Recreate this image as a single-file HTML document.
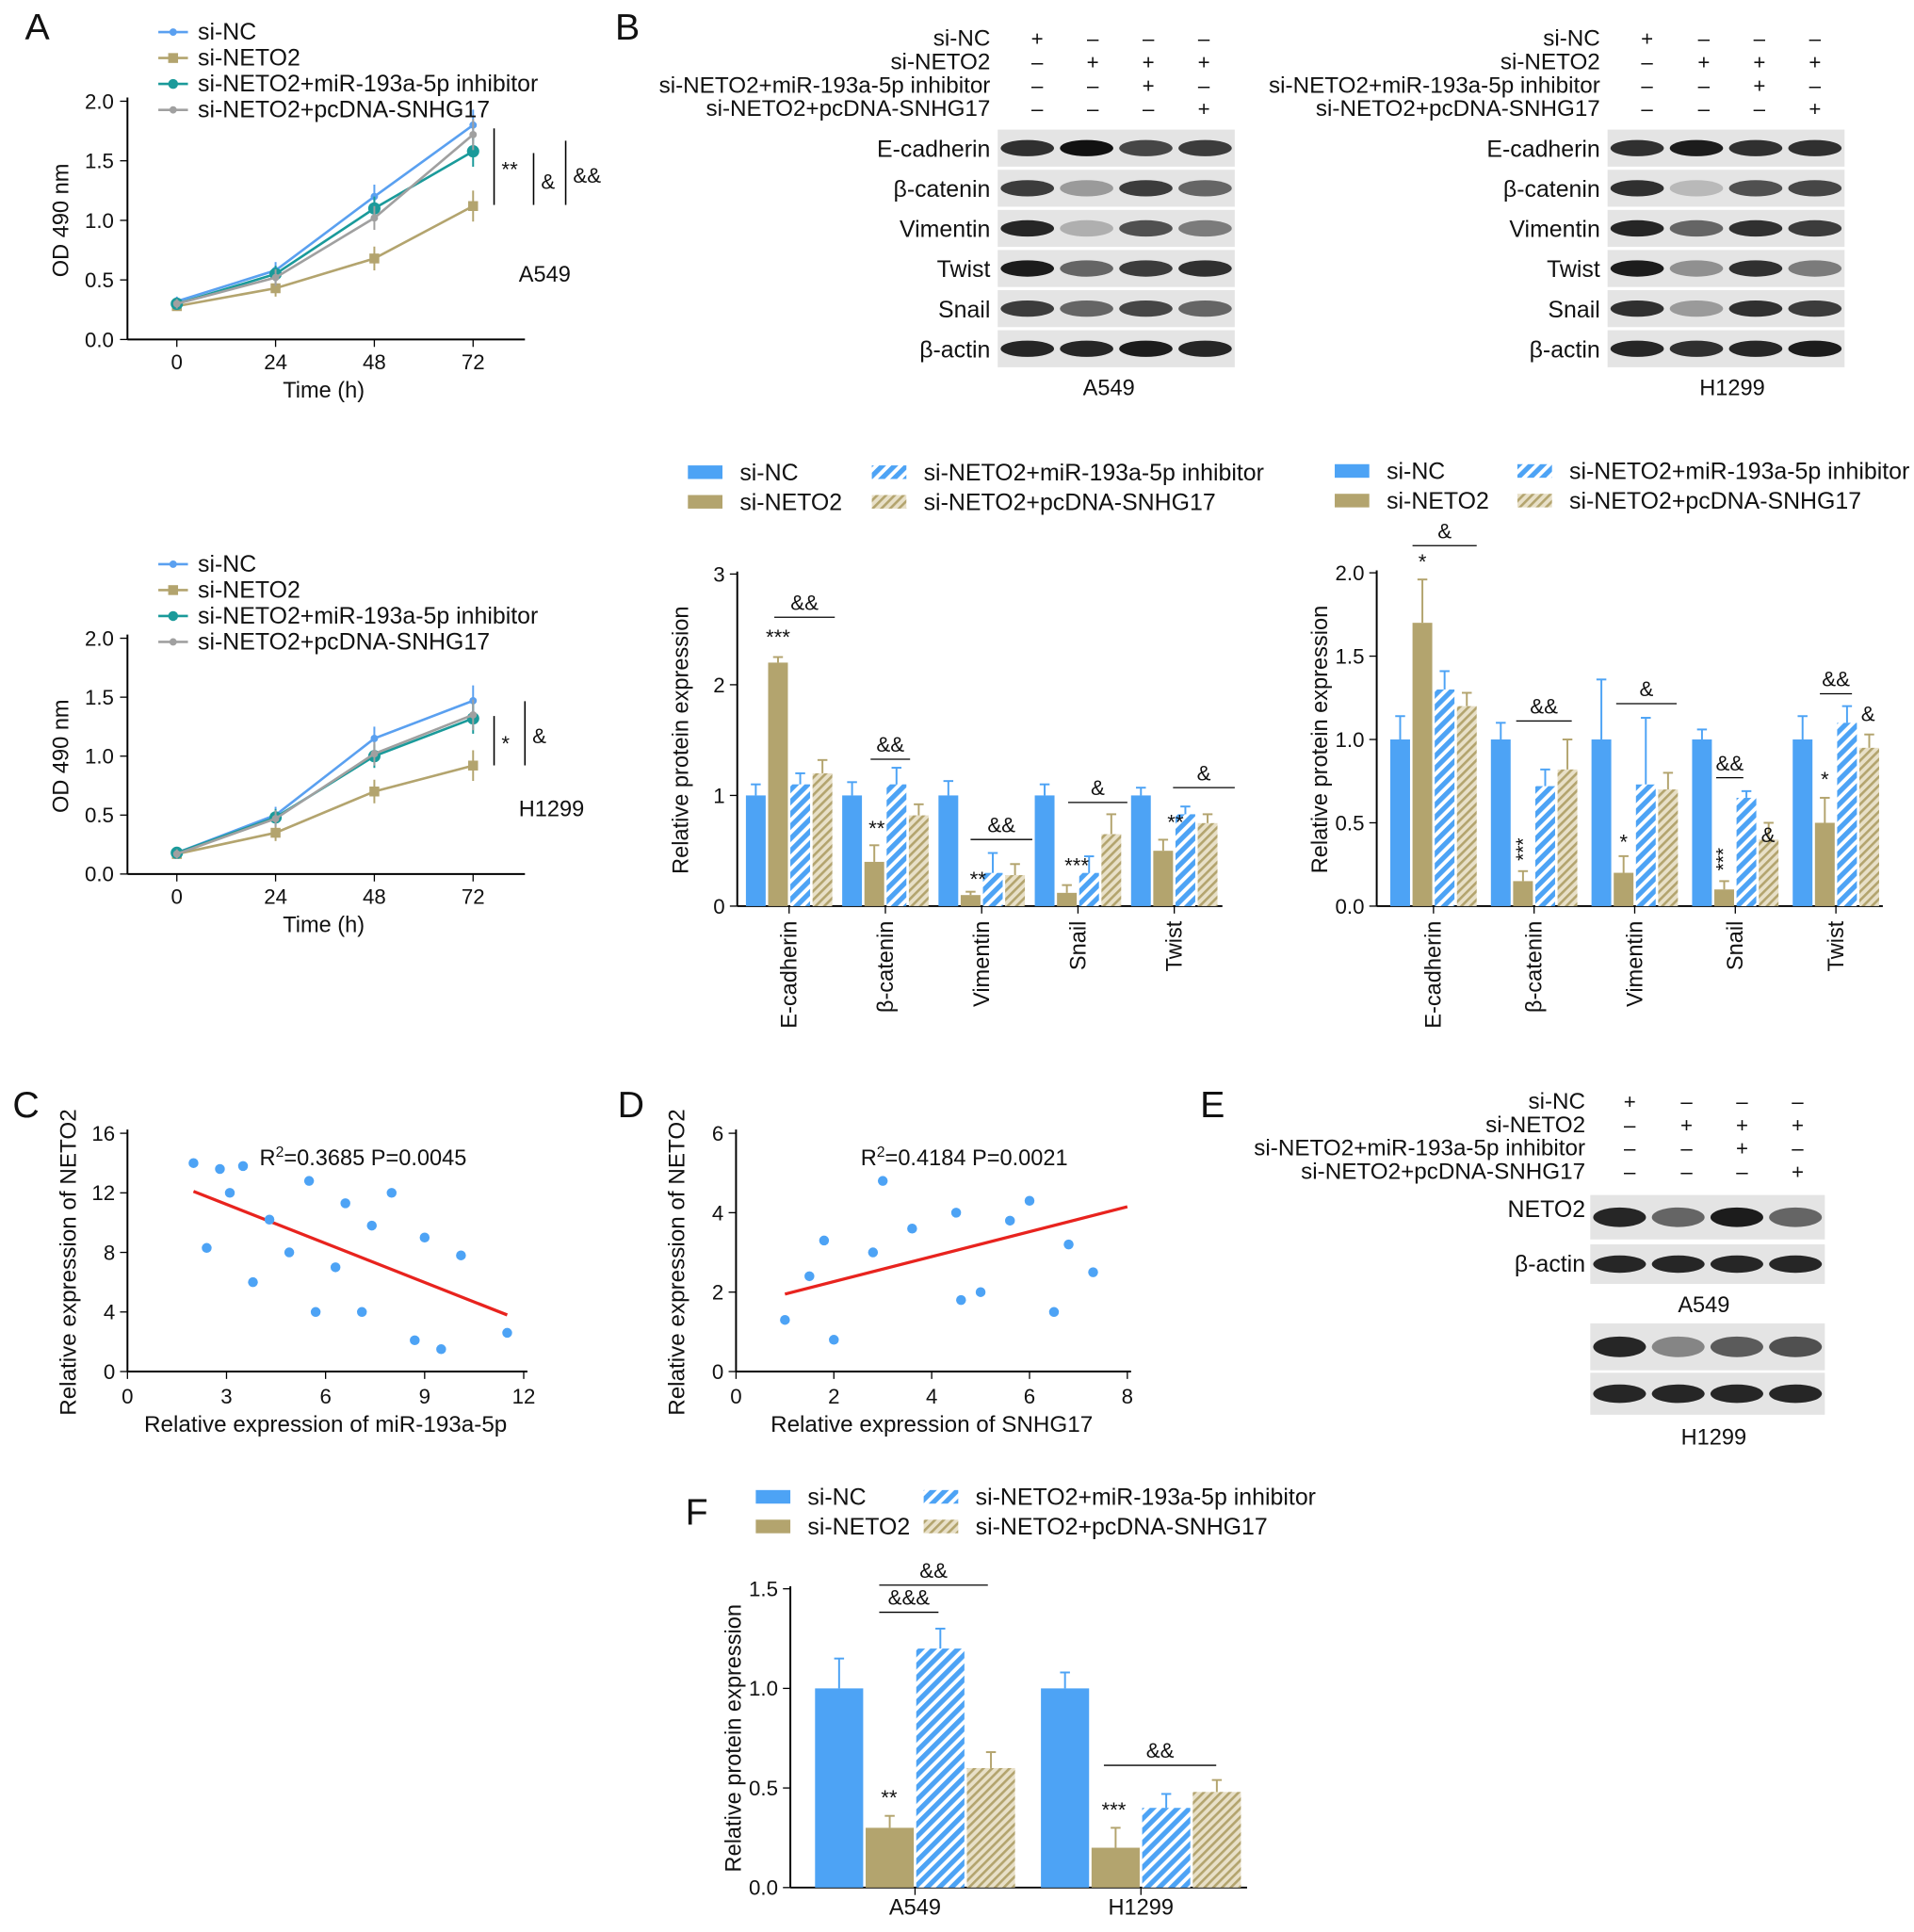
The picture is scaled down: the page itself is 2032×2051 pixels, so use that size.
<!DOCTYPE html>
<html><head><meta charset="utf-8"><style>
html,body{margin:0;padding:0;background:#fff}
svg{display:block;font-family:"Liberation Sans",Arial,sans-serif}
</style></head><body>
<svg id="fig" width="2032" height="2051" viewBox="0 0 1550 1565" xmlns="http://www.w3.org/2000/svg">
<defs>
<pattern id="hb" patternUnits="userSpaceOnUse" width="7" height="7" patternTransform="rotate(45)"><rect width="7" height="7" fill="#fff"/><rect width="4" height="7" fill="#4da3f5"/></pattern>
<pattern id="ht" patternUnits="userSpaceOnUse" width="5" height="5" patternTransform="rotate(45)"><rect width="5" height="5" fill="#e8e0c8"/><rect width="2" height="5" fill="#b3a46e"/></pattern>
</defs>
</svg>
<script>
// ---- data ----
const timeCats=[0,24,48,72];
const a549_siNC=[0.32,0.58,1.2,1.8], a549_siNETO2=[0.28,0.43,0.68,1.12], a549_inh=[0.3,0.55,1.1,1.58], a549_pc=[0.3,0.52,1.02,1.72];
const h1299_siNC=[0.18,0.5,1.15,1.47], h1299_siNETO2=[0.17,0.35,0.7,0.92], h1299_inh=[0.18,0.48,1.0,1.32], h1299_pc=[0.17,0.47,1.02,1.35];
const proteins=["E-cadherin","β-catenin","Vimentin","Snail","Twist"];
const bA_siNC=[1,1,1,1,1], bA_siNETO2=[2.2,0.4,0.1,0.12,0.5], bA_inh=[1.1,1.1,0.3,0.3,0.83], bA_pc=[1.2,0.82,0.28,0.65,0.75];
const bA_err=[[0.1,0.05,0.1,0.12],[0.12,0.15,0.15,0.1],[0.13,0.03,0.18,0.1],[0.1,0.07,0.15,0.18],[0.07,0.1,0.07,0.08]];
const bH_siNC=[1,1,1,1,1], bH_siNETO2=[1.7,0.15,0.2,0.1,0.5], bH_inh=[1.3,0.72,0.73,0.65,1.1], bH_pc=[1.2,0.82,0.7,0.4,0.95];
const bH_err=[[0.14,0.26,0.11,0.08],[0.1,0.06,0.1,0.18],[0.36,0.1,0.4,0.1],[0.06,0.05,0.04,0.1],[0.14,0.15,0.1,0.08]];
const scC_x=[2,2.4,2.8,3.1,3.5,3.8,4.3,4.9,5.5,5.7,6.3,6.6,7.1,7.4,8,8.7,9,9.5,10.1,11.5];
const scC_y=[14,8.3,13.6,12,13.8,6,10.2,8,12.8,4,7,11.3,4,9.8,12,2.1,9,1.5,7.8,2.6];
const fitC=[[2,12.1],[11.5,3.8]];
const scD_x=[1,1.5,1.8,2,2.8,3,3.6,4.5,4.6,5,5.6,6,6.5,6.8,7.3];
const scD_y=[1.3,2.4,3.3,0.8,3,4.8,3.6,4,1.8,2,3.8,4.3,1.5,3.2,2.5];
const fitD=[[1,1.95],[8,4.15]];
const fCats=["A549","H1299"];
const f_siNC=[1,1], f_siNETO2=[0.3,0.2], f_inh=[1.2,0.4], f_pc=[0.6,0.48];
const f_err=[[0.15,0.06,0.1,0.08],[0.08,0.1,0.07,0.06]];

const svg=document.getElementById('fig');
const NS="http://www.w3.org/2000/svg";
function mk(tag,at,par){const e=document.createElementNS(NS,tag);for(const k in at)e.setAttribute(k,at[k]);(par||svg).appendChild(e);return e;}
function tx(x,y,s,size,anchor,extra){const e=mk('text',Object.assign({x:x,y:y,'font-size':size||15,'text-anchor':anchor||'start',fill:'#111'},extra||{}));e.textContent=s;return e;}
const colNC="#5aa0f0",colN2="#b3a46e",colInh="#1a9a9a",colPc="#a0a0a0";

[["A",20,32],["B",498,32],["C",10,905],["D",500,905],["E",972,905],["F",555,1235]].forEach(p=>{const t=tx(p[1],p[2],p[0],30);

});

function lineChart(y0,yTop,series,cell,legY,sig){
 const xs=v=>143+v/24*80, ys=v=>y0-(v/2)*(y0-yTop);
 const g=mk('g',{});
 
 
 mk('line',{x1:103,y1:yTop-3,x2:103,y2:y0,stroke:'#000','stroke-width':1.5},g);
 mk('line',{x1:103,y1:y0,x2:425,y2:y0,stroke:'#000','stroke-width':1.5},g);
 [0,0.5,1,1.5,2].forEach(v=>{mk('line',{x1:97,x2:103,y1:ys(v),y2:ys(v),stroke:'#000'},g);const t=tx(92,ys(v)+6,v.toFixed(1),17,'end');
 });
 timeCats.forEach(v=>{mk('line',{x1:xs(v),x2:xs(v),y1:y0,y2:y0+6,stroke:'#000'},g);const t=tx(xs(v),y0+24,String(v),17,'middle');
 });
 const xt=tx(262,y0+47,"Time (h)",18,'middle');
 const yt=tx(0,0,"OD 490 nm",18,'middle',{transform:`translate(55,${(y0+yTop)/2}) rotate(-90)`});
 const ct=tx(420,y0-47,cell,18);
 series.forEach(s=>{
  const pts=s.v.map((v,i)=>xs(timeCats[i])+','+ys(v)).join(' ');
  const pl=mk('polyline',{points:pts,fill:'none',stroke:s.c,'stroke-width':2},g);
  
  s.v.forEach((v,i)=>{const e=0.04+0.03*i;mk('line',{x1:xs(timeCats[i]),x2:xs(timeCats[i]),y1:ys(v+e),y2:ys(v-e),stroke:s.c,'stroke-width':1.5},g);
   const m=s.m==='sq'?mk('rect',{x:xs(timeCats[i])-4,y:ys(v)-4,width:8,height:8,fill:s.c},g):mk('circle',{cx:xs(timeCats[i]),cy:ys(v),r:s.m==='big'?5:3,fill:s.c},g);
   });
 });
 const names=["si-NC","si-NETO2","si-NETO2+miR-193a-5p inhibitor","si-NETO2+pcDNA-SNHG17"];
 series.forEach((s,i)=>{const y=legY+i*21;mk('line',{x1:128,x2:152,y1:y,y2:y,stroke:s.c,'stroke-width':2});
  if(s.m==='sq')mk('rect',{x:136,y:y-4,width:8,height:8,fill:s.c});else mk('circle',{cx:140,cy:y,r:s.m==='big'?4:3,fill:s.c});
  const t=tx(160,y+6,names[i],19);});
 sig.forEach(q=>{mk('line',{x1:q[0],x2:q[0],y1:q[1],y2:q[2],stroke:'#000','stroke-width':1.2});tx(q[0]+6,(q[1]+q[2])/2+8,q[3],17);});
}
lineChart(275,82,[{v:a549_siNC,c:colNC,m:'dot'},{v:a549_siNETO2,c:colN2,m:'sq'},{v:a549_inh,c:colInh,m:'big'},{v:a549_pc,c:colPc,m:'dot'}],"A549",26,[[400,104,166,"**"],[432,124,166,"&"],[458,114,166,"&&"]]);
lineChart(708,517,[{v:h1299_siNC,c:colNC,m:'dot'},{v:h1299_siNETO2,c:colN2,m:'sq'},{v:h1299_inh,c:colInh,m:'big'},{v:h1299_pc,c:colPc,m:'dot'}],"H1299",457,[[400,580,620,"*"],[425,568,620,"&"]]);

function blot(x,y,w,h,intens,name){
 const g=mk('g',{});
 mk('rect',{x:x,y:y,width:w,height:h,fill:'#e4e4e4'},g);
 const lw=w/4;
 intens.forEach((a,i)=>{mk('ellipse',{cx:x+lw*(i+0.5),cy:y+h/2,rx:lw*0.45,ry:h*0.22,fill:'#111','fill-opacity':a},g);});
}
function blotHeader(xr,y0,cols){
 const names=["si-NC","si-NETO2","si-NETO2+miR-193a-5p inhibitor","si-NETO2+pcDNA-SNHG17"];
 const signs=[["+","–","–","–"],["–","+","+","+"],["–","–","+","–"],["–","–","–","+"]];
 names.forEach((n,i)=>{const t=tx(xr,y0+i*19,n,18.5,'end');
  signs[i].forEach((s,j)=>tx(cols[j],y0+i*19,s,17,'middle'));});
}
blotHeader(802,37,[840,885,930,975]);
blotHeader(1296,37,[1334,1380,1425,1470]);
const bandsA=[["E-cadherin",[0.85,1,0.75,0.8]],["β-catenin",[0.8,0.35,0.8,0.6]],["Vimentin",[0.9,0.25,0.7,0.5]],["Twist",[0.95,0.6,0.8,0.85]],["Snail",[0.8,0.6,0.75,0.6]],["β-actin",[0.9,0.9,0.95,0.9]]];
const bandsH=[["E-cadherin",[0.85,0.95,0.85,0.85]],["β-catenin",[0.85,0.2,0.7,0.75]],["Vimentin",[0.9,0.6,0.85,0.8]],["Twist",[0.95,0.4,0.85,0.5]],["Snail",[0.85,0.35,0.85,0.8]],["β-actin",[0.9,0.85,0.9,0.95]]];
bandsA.forEach((b,i)=>{const y=105+i*32.5;blot(808,y,192,30,b[1],'blot-a549-'+i);const t=tx(802,y+22,b[0],19,'end');});
bandsH.forEach((b,i)=>{const y=105+i*32.5;blot(1302,y,192,30,b[1],'blot-h1299-'+i);const t=tx(1296,y+22,b[0],19,'end');});
tx(898,320,"A549",18,'middle');tx(1403,320,"H1299",18,'middle');

function barLegend(x,y,rowGap,col2){
 const items=[["si-NC","#4da3f5"],["si-NETO2","#b3a46e"],["si-NETO2+miR-193a-5p inhibitor","url(#hb)"],["si-NETO2+pcDNA-SNHG17","url(#ht)"]];
 items.forEach((it,i)=>{const xx=x+(i>=2?col2:0),yy=y+(i%2)*rowGap;
  mk('rect',{x:xx,y:yy-9,width:28,height:11,fill:it[1]});
  const t=tx(xx+42,yy+3,it[0],19);});
}
barLegend(557,386,24,149);barLegend(1081,385,24,148);barLegend(612,1216,24,136);

const fills=["#4da3f5","#b3a46e","url(#hb)","url(#ht)"];
function barChart(o){
 const ys=v=>o.y0-v/o.max*(o.y0-o.yTop);
 const g=mk('g',{});
 mk('line',{x1:o.ax,x2:o.ax,y1:o.yTop-2,y2:o.y0,stroke:'#000','stroke-width':1.5},g);
 mk('line',{x1:o.ax,x2:o.xEnd,y1:o.y0,y2:o.y0,stroke:'#000','stroke-width':1.5},g);
 o.ticks.forEach(v=>{mk('line',{x1:o.ax-6,x2:o.ax,y1:ys(v),y2:ys(v),stroke:'#000'},g);const t=tx(o.ax-10,ys(v)+6,o.fmt(v),17,'end');});
 const yt=tx(0,0,"Relative protein expression",18,'middle',{transform:`translate(${o.ax-40},${(o.y0+o.yTop)/2}) rotate(-90)`});
 o.cats.forEach((c,i)=>{const gx=o.g0+i*o.gs;
  o.series.forEach((s,j)=>{const v=s[i],x=gx+j*o.bw;
   const r=mk('rect',{x:x+1,y:ys(v),width:o.bw-2,height:o.y0-ys(v),fill:fills[j]},g);
   
   const e=o.err[i][j],cx=x+o.bw/2,col=j%2?"#b3a46e":"#4da3f5";
   mk('line',{x1:cx,x2:cx,y1:ys(v),y2:ys(v+e),stroke:col,'stroke-width':1.5},g);
   mk('line',{x1:cx-4,x2:cx+4,y1:ys(v+e),y2:ys(v+e),stroke:col,'stroke-width':1.5},g);});
  const cxg=gx+2*o.bw;
  mk('line',{x1:cxg,x2:cxg,y1:o.y0,y2:o.y0+6,stroke:'#000'},g);
  const t=o.rot?tx(0,0,c,18,'end',{transform:`translate(${cxg+6},${o.y0+12}) rotate(-90)`}):tx(cxg,o.y0+22,c,18,'middle');
  });
 (o.ann||[]).forEach(a=>{if(a[3])mk('line',{x1:a[0],x2:a[1],y1:a[2],y2:a[2],stroke:'#000'});
  if(a[5]){tx(a[0],a[2],a[4],16,'middle',{transform:`rotate(-90 ${a[0]} ${a[2]})`});}
  else tx((a[0]+a[1])/2,a[2]-6,a[4],17,'middle');});
}
barChart({name:'bar-chart-a549',ax:597,xEnd:990,y0:734,yTop:465,max:3,ticks:[0,1,2,3],fmt:v=>String(v),cats:proteins,series:[bA_siNC,bA_siNETO2,bA_inh,bA_pc],err:bA_err,g0:603,gs:78,bw:18,rot:true,
 ann:[[627,676,500,1,"&&"],[705,737,615,1,"&&"],[786,836,680,1,"&&"],[865,913,650,1,"&"],[950,1000,638,1,"&"],[630,630,528,0,"***"],[710,710,683,0,"**"],[792,792,724,0,"**"],[872,872,713,0,"***"],[952,952,678,0,"**"]]});
barChart({name:'bar-chart-h1299',ax:1115,xEnd:1525,y0:734,yTop:464,max:2,ticks:[0,0.5,1,1.5,2],fmt:v=>v.toFixed(1),cats:proteins,series:[bH_siNC,bH_siNETO2,bH_inh,bH_pc],err:bH_err,g0:1125,gs:81.5,bw:18,rot:true,
 ann:[[1144,1196,442,1,"&"],[1228,1273,584,1,"&&"],[1309,1358,570,1,"&"],[1390,1412,630,1,"&&"],[1474,1500,562,1,"&&"],[1152,1152,467,0,"*"],[1239,1239,688,0,"***",1],[1315,1315,694,0,"*"],[1401,1401,696,0,"***",1],[1478,1478,643,0,"*"],[1432,1432,688,0,"&"],[1513,1513,590,0,"&"]]});
barChart({name:'bar-chart-neto2',ax:640,xEnd:1010,y0:1529,yTop:1287,max:1.5,ticks:[0,0.5,1,1.5],fmt:v=>v.toFixed(1),cats:fCats,series:[f_siNC,f_siNETO2,f_inh,f_pc],err:f_err,g0:659,gs:183,bw:41,rot:false,
 ann:[[712,800,1284,1,"&&"],[712,760,1306,1,"&&&"],[894,985,1430,1,"&&"],[720,720,1468,0,"**"],[902,902,1478,0,"***"]]});

function scatter(o){
 const xs=v=>o.x0+v/o.xmax*(o.x1-o.x0), ys=v=>o.y0-v/o.ymax*(o.y0-o.y1);
 const g=mk('g',{});
 mk('line',{x1:o.x0,x2:o.x0,y1:o.y1-3,y2:o.y0,stroke:'#000','stroke-width':1.5},g);
 mk('line',{x1:o.x0,x2:o.x1+3,y1:o.y0,y2:o.y0,stroke:'#000','stroke-width':1.5},g);
 o.xt.forEach(v=>{mk('line',{x1:xs(v),x2:xs(v),y1:o.y0,y2:o.y0+6,stroke:'#000'},g);const t=tx(xs(v),o.y0+26,String(v),17,'middle');});
 o.yt.forEach(v=>{mk('line',{x1:o.x0-6,x2:o.x0,y1:ys(v),y2:ys(v),stroke:'#000'},g);const t=tx(o.x0-10,ys(v)+6,String(v),17,'end');});
 const xa=tx((o.x0+o.x1)/2,o.y0+49,o.xl,18.5,'middle');
 const ya=tx(0,0,"Relative expression of NETO2",18.5,'middle',{transform:`translate(${o.x0-42},${(o.y0+o.y1)/2+8}) rotate(-90)`});
 const fl=mk('line',{x1:xs(o.fit[0][0]),y1:ys(o.fit[0][1]),x2:xs(o.fit[1][0]),y2:ys(o.fit[1][1]),stroke:'#e8231e','stroke-width':2.5},g);
 
 o.px.forEach((v,i)=>{const c=mk('circle',{cx:xs(v),cy:ys(o.py[i]),r:4,fill:'#4da3f5'},g);});
 const st=mk('text',{x:o.sx,y:944,'font-size':18,fill:'#111'},g);st.innerHTML=o.stat;
}
scatter({name:'scatter-mir193a',x0:103,x1:424,xmax:12,y0:1111,y1:918,ymax:16,xt:[0,3,6,9,12],yt:[0,4,8,12,16],px:scC_x,py:scC_y,fit:fitC,xl:"Relative expression of miR-193a-5p",sx:210,stat:'R<tspan dy="-7" font-size="12">2</tspan><tspan dy="7">=0.3685 P=0.0045</tspan>'});
scatter({name:'scatter-snhg17',x0:596,x1:913,xmax:8,y0:1111,y1:918,ymax:6,xt:[0,2,4,6,8],yt:[0,2,4,6],px:scD_x,py:scD_y,fit:fitD,xl:"Relative expression of SNHG17",sx:697,stat:'R<tspan dy="-7" font-size="12">2</tspan><tspan dy="7">=0.4184 P=0.0021</tspan>'});

blotHeader(1284,898,[1320,1366,1411,1456]);
blot(1288,968,190,36,[0.9,0.6,0.95,0.6],'blot-e-neto2-a549');
blot(1288,1008,190,32,[0.9,0.9,0.9,0.9],'blot-e-actin-a549');
tx(1284,986,"NETO2",19,'end');tx(1284,1030,"β-actin",19,'end');
tx(1380,1063,"A549",18,'middle');
blot(1288,1072,190,38,[0.9,0.45,0.65,0.7],'blot-e-neto2-h1299');
blot(1288,1112,190,34,[0.9,0.9,0.9,0.9],'blot-e-actin-h1299');
tx(1388,1170,"H1299",18,'middle');
</script>
</body></html>
